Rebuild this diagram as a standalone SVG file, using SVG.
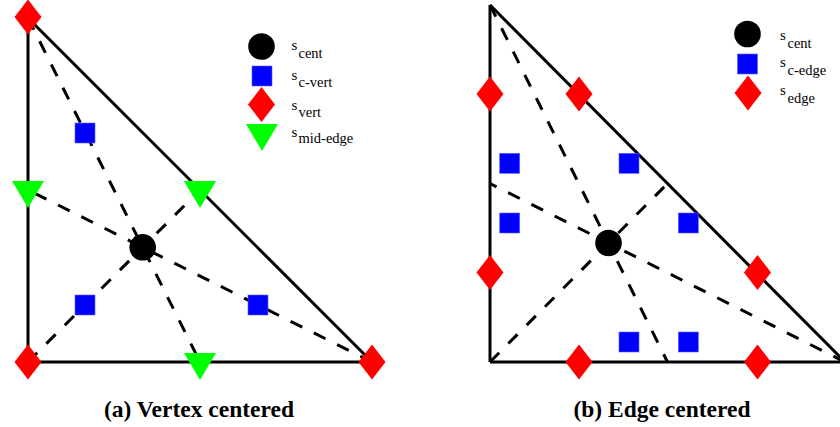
<svg xmlns="http://www.w3.org/2000/svg" width="840" height="427" viewBox="0 0 840 427">
<style>
.edge{stroke:#000;stroke-width:3;fill:none}
.dash{stroke:#000;stroke-width:3;fill:none;stroke-dasharray:13 13}
.cent{fill:#000}
.sq{fill:#0000ff;stroke:#6060ff;stroke-width:0.6}
.dia{fill:#ff0000}
.tri{fill:#00ff00}
.lab{font-size:15px;fill:#000}
.sub{font-size:14.5px}
.cap{font-size:23.5px;font-weight:bold;fill:#000;text-anchor:middle}
</style>
<defs>
<rect id="sqm" x="-10" y="-10" width="20" height="20" class="sq"/>
<polygon id="diam" points="0,-17.5 13.5,0 0,17.5 -13.5,0" class="dia"/>
<polygon id="trim" points="-16,-9 16,-9 0,18" class="tri"/>
</defs>
<g id="connectors">
<line class="edge" x1="28" y1="18" x2="28" y2="362"/>
<line class="edge" x1="28" y1="362" x2="372" y2="362"/>
<line class="edge" x1="28" y1="18" x2="372" y2="362"/>
<line class="dash" x1="28" y1="18" x2="200" y2="362"/>
<line class="dash" x1="28" y1="362" x2="200" y2="190"/>
<line class="dash" x1="372" y1="362" x2="28" y2="190"/>
<line class="edge" x1="490" y1="5" x2="490" y2="362"/>
<line class="edge" x1="490" y1="362" x2="845" y2="362"/>
<line class="edge" x1="490" y1="5" x2="845" y2="362"/>
<line class="dash" x1="490" y1="5" x2="667.5" y2="362"/>
<line class="dash" x1="490" y1="362" x2="667.5" y2="183.5"/>
<line class="dash" x1="845" y1="362" x2="490" y2="183.5"/>
</g>
<g id="panel-a" font-family="Liberation Serif, Times New Roman, serif">
<g id="a-cent"><circle class="cent" cx="142.7" cy="247.3" r="13.3"/></g>
<g id="a-vert-top"><use href="#diam" x="28" y="17"/></g>
<g id="a-vert-bl"><use href="#diam" x="28" y="362"/></g>
<g id="a-vert-br"><use href="#diam" x="372" y="362"/></g>
<g id="a-mid-left"><use href="#trim" x="28" y="190"/></g>
<g id="a-mid-hyp"><use href="#trim" x="200" y="190"/></g>
<g id="a-mid-bottom"><use href="#trim" x="200" y="362"/></g>
<g id="a-cvert-1"><use href="#sqm" x="85" y="133"/></g>
<g id="a-cvert-2"><use href="#sqm" x="85" y="305"/></g>
<g id="a-cvert-3"><use href="#sqm" x="258" y="305"/></g>
<g id="a-legend">
<circle class="cent" cx="261.5" cy="46.5" r="13.3"/>
<use href="#sqm" x="262" y="76"/>
<use href="#diam" x="261.5" y="104.5"/>
<use href="#trim" x="262" y="133"/>
<text class="lab" x="291.5" y="50">s</text><text class="lab sub" x="298.5" y="58.3">cent</text>
<text class="lab" x="291.5" y="80">s</text><text class="lab sub" x="298.5" y="87.3">c-vert</text>
<text class="lab" x="291.5" y="110">s</text><text class="lab sub" x="298.5" y="116.7">vert</text>
<text class="lab" x="291.5" y="136.7">s</text><text class="lab sub" x="298.5" y="143.3">mid-edge</text>
</g>
<text id="a-caption" class="cap" x="199" y="417">(a) Vertex centered</text>
</g>
<g id="panel-b" font-family="Liberation Serif, Times New Roman, serif">
<g id="b-cent"><circle class="cent" cx="608.5" cy="243" r="13.3"/></g>
<g id="b-edge-l1"><use href="#diam" x="490" y="94"/></g>
<g id="b-edge-l2"><use href="#diam" x="490" y="272.5"/></g>
<g id="b-edge-h1"><use href="#diam" x="579" y="94"/></g>
<g id="b-edge-h2"><use href="#diam" x="757.5" y="272.5"/></g>
<g id="b-edge-b1"><use href="#diam" x="579" y="362"/></g>
<g id="b-edge-b2"><use href="#diam" x="757.5" y="362"/></g>
<g id="b-cedge-1"><use href="#sqm" x="509.7" y="163.3"/></g>
<g id="b-cedge-2"><use href="#sqm" x="629" y="163.3"/></g>
<g id="b-cedge-3"><use href="#sqm" x="509.7" y="223"/></g>
<g id="b-cedge-4"><use href="#sqm" x="688.3" y="223"/></g>
<g id="b-cedge-5"><use href="#sqm" x="629" y="342"/></g>
<g id="b-cedge-6"><use href="#sqm" x="688.3" y="342"/></g>
<g id="b-legend">
<circle class="cent" cx="747.5" cy="34" r="13.3"/>
<use href="#sqm" x="747.5" y="64"/>
<use href="#diam" x="748" y="93"/>
<text class="lab" x="780" y="39.5">s</text><text class="lab sub" x="787.5" y="48">cent</text>
<text class="lab" x="780" y="66.5">s</text><text class="lab sub" x="787.5" y="75">c-edge</text>
<text class="lab" x="780" y="95">s</text><text class="lab sub" x="787.5" y="103">edge</text>
</g>
<text id="b-caption" class="cap" x="662" y="417">(b) Edge centered</text>
</g>
</svg>
